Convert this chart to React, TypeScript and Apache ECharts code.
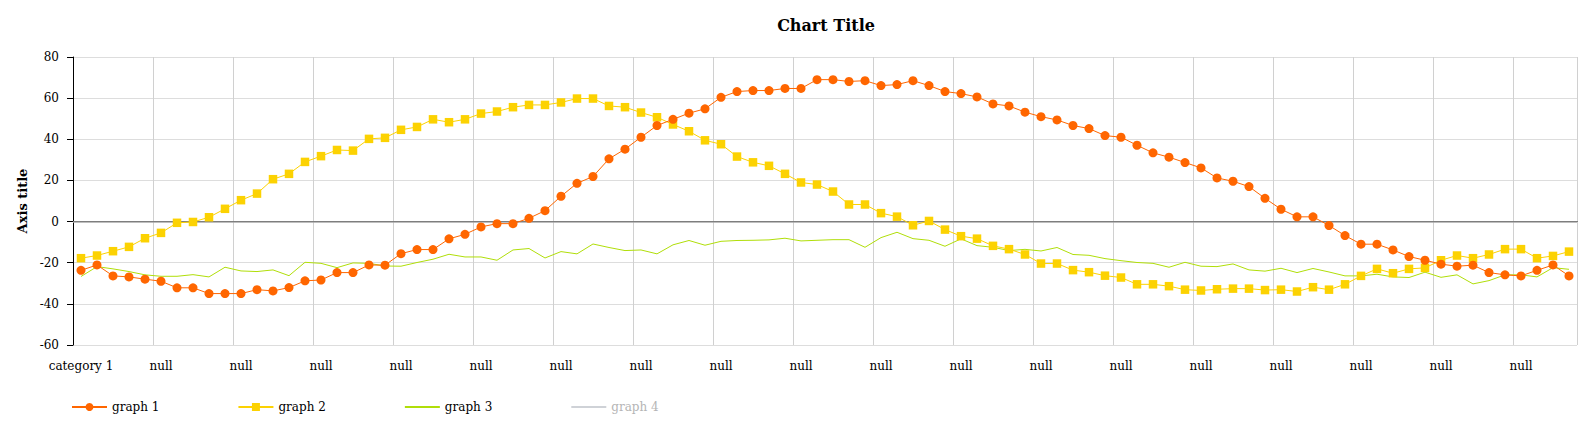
import React, { useEffect, useRef } from "react";
import * as echarts from "echarts";

const categories: string[] = [
  "category 1", "null", "null", "null", "null", "null", "null", "null", "null", "null",
  "null", "null", "null", "null", "null", "null", "null", "null", "null", "null",
  "null", "null", "null", "null", "null", "null", "null", "null", "null", "null",
  "null", "null", "null", "null", "null", "null", "null", "null", "null", "null",
  "null", "null", "null", "null", "null", "null", "null", "null", "null", "null",
  "null", "null", "null", "null", "null", "null", "null", "null", "null", "null",
  "null", "null", "null", "null", "null", "null", "null", "null", "null", "null",
  "null", "null", "null", "null", "null", "null", "null", "null", "null", "null",
  "null", "null", "null", "null", "null", "null", "null", "null", "null", "null",
  "null", "null", "null", "null",
];

const graph1: number[] = [
  -23.7, -21.1, -26.4, -26.9, -28.0, -29.0, -32.2, -32.2, -35.0, -35.0,
  -35.0, -33.1, -33.7, -32.1, -28.8, -28.4, -24.8, -24.8, -21.1, -21.2,
  -15.6, -13.6, -13.6, -8.4, -6.2, -2.6, -1.0, -1.0, 1.6, 5.3,
  12.3, 18.6, 21.9, 30.5, 35.2, 41.0, 46.7, 49.7, 52.7, 54.8,
  60.4, 63.2, 63.7, 63.7, 64.7, 64.7, 69.0, 69.0, 68.1, 68.5,
  66.1, 66.6, 68.5, 66.1, 63.2, 62.2, 60.6, 57.2, 56.2, 53.2,
  51.0, 49.4, 46.7, 45.2, 41.8, 41.0, 37.1, 33.4, 31.3, 28.7,
  26.1, 21.2, 19.6, 17.0, 11.3, 6.0, 2.3, 2.3, -1.9, -6.8,
  -11.0, -11.0, -13.8, -17.0, -18.8, -20.7, -21.7, -21.2, -24.8, -25.9,
  -26.4, -23.7, -21.1, -26.4,
];

const graph2: number[] = [
  -17.8, -16.5, -14.4, -12.3, -8.1, -5.5, -0.6, -0.2, 2.1, 6.2,
  10.4, 13.6, 20.6, 23.2, 29.0, 31.8, 34.8, 34.5, 40.2, 40.7,
  44.6, 46.0, 49.7, 48.3, 49.7, 52.5, 53.5, 55.6, 56.7, 56.7,
  57.9, 59.8, 59.8, 56.2, 55.6, 53.0, 50.7, 47.2, 43.9, 39.5,
  37.6, 31.6, 28.8, 27.1, 23.2, 19.0, 18.0, 14.6, 8.3, 8.3,
  4.1, 2.4, -1.8, 0.3, -3.9, -7.1, -8.3, -11.8, -13.4, -16.0,
  -20.4, -20.4, -23.6, -24.6, -26.3, -27.2, -30.5, -30.5, -31.4, -33.1,
  -33.5, -32.9, -32.6, -32.6, -33.3, -33.1, -34.0, -31.9, -33.1, -30.5,
  -26.4, -23.0, -25.1, -23.0, -22.5, -18.8, -16.5, -17.8, -16.0, -13.4,
  -13.4, -17.8, -16.7, -14.6,
];

const graph3: number[] = [
  -26.7, -21.9, -23.0, -24.3, -25.9, -26.6, -26.6, -25.8, -26.9, -22.2,
  -24.0, -24.3, -23.5, -26.3, -19.8, -20.3, -22.4, -20.1, -20.3, -21.6,
  -21.7, -19.9, -18.3, -15.9, -17.2, -17.2, -18.8, -13.8, -13.1, -17.7,
  -14.6, -15.7, -10.9, -12.6, -14.1, -13.8, -15.7, -11.3, -9.2, -11.5,
  -9.6, -9.2, -9.1, -8.9, -8.1, -9.4, -9.1, -8.8, -8.8, -12.5,
  -7.8, -5.2, -8.3, -9.1, -12.0, -8.4, -11.7, -12.5, -14.1, -13.5,
  -14.3, -12.6, -16.0, -16.4, -18.0, -19.0, -19.9, -20.3, -22.2, -19.8,
  -21.7, -21.9, -20.6, -23.5, -24.1, -22.7, -24.8, -22.8, -24.5, -26.4,
  -26.4, -25.6, -26.9, -27.2, -24.6, -27.1, -25.9, -30.3, -28.7, -25.9,
  -25.9, -26.9, -22.4, -23.2,
];

const graph4: number[] = [];

const seriesNames = ["graph 1", "graph 2", "graph 3", "graph 4"];
const zeroLine = 0;

const FONT = "DejaVu Serif";

export default function App() {
  const ref = useRef<HTMLDivElement>(null);
  useEffect(() => {
    if (!ref.current) return;
    const chart = echarts.init(ref.current, undefined, { renderer: "svg" });
    chart.setOption({
      animation: false,
      textStyle: { fontFamily: FONT },
      title: {
        text: "Chart Title",
        left: 821,
        textAlign: "center",
        top: 12,
        textStyle: { fontFamily: FONT, fontSize: 16, fontWeight: "bold", color: "#000" },
      },
      legend: {
        left: 66,
        top: 396,
        itemGap: 78,
        itemWidth: 35,
        itemHeight: 10,
        inactiveColor: "#b5b5b5",
        selected: { "graph 4": false },
        textStyle: { fontFamily: FONT, fontSize: 12, color: "#000" },
        data: [
          { name: seriesNames[0] },
          { name: seriesNames[1] },
          { name: seriesNames[2], itemStyle: { opacity: 0 } },
          { name: seriesNames[3], itemStyle: { opacity: 0 } },
        ],
      },
      grid: { left: 73, right: 17, top: 57, bottom: 85 },
      xAxis: {
        type: "category",
        data: categories,
        boundaryGap: true,
        axisLine: { lineStyle: { color: "#000", width: 1 } },
        axisTick: { interval: 4, alignWithLabel: true, length: 6, lineStyle: { color: "#000" } },
        axisLabel: { interval: 4, margin: 15, color: "#000", fontFamily: FONT, fontSize: 12 },
        splitLine: { show: true, interval: 4, lineStyle: { color: "#d0d0d0", width: 1 } },
      },
      yAxis: {
        type: "value",
        min: -60,
        max: 80,
        interval: 20,
        name: "Axis title",
        nameLocation: "middle",
        nameRotate: 90,
        nameGap: 42,
        nameTextStyle: { fontFamily: FONT, fontSize: 13, fontWeight: "bold", color: "#000" },
        axisLine: { show: true, lineStyle: { color: "#000", width: 1 } },
        axisTick: { show: true, length: 6, lineStyle: { color: "#000" } },
        axisLabel: { margin: 14, color: "#000", fontFamily: FONT, fontSize: 12 },
        splitLine: { show: true, lineStyle: { color: "#dddddd", width: 1 } },
      },
      series: [
        {
          name: "graph 1",
          type: "line",
          data: graph1,
          symbol: "circle",
          symbolSize: 9,
          showAllSymbol: true,
          itemStyle: { color: "#FF6600" },
          lineStyle: { color: "#FF6600", width: 1 },
          markLine: {
            silent: true,
            symbol: "none",
            label: { show: false },
            lineStyle: { color: "#a8a8a8", width: 1.5, type: "solid" },
            data: [{ yAxis: zeroLine }],
            z: 1,
          },
          z: 4,
        },
        {
          name: "graph 2",
          type: "line",
          data: graph2,
          symbol: "rect",
          symbolSize: 8.5,
          showAllSymbol: true,
          itemStyle: { color: "#FCD202" },
          lineStyle: { color: "#FCD202", width: 1 },
          z: 3,
        },
        {
          name: "graph 3",
          type: "line",
          data: graph3,
          symbol: "none",
          itemStyle: { color: "#B0DE09" },
          lineStyle: { color: "#B0DE09", width: 1 },
          z: 2,
        },
        {
          name: "graph 4",
          type: "line",
          data: graph4,
          symbol: "none",
          itemStyle: { color: "#b0b0b0" },
          lineStyle: { color: "#b0b0b0", width: 1 },
        },
      ],
    });
    return () => chart.dispose();
  }, []);
  return (
    <div
      ref={ref}
      style={{ position: "fixed", left: 0, top: 0, width: 1594, height: 430, background: "#fff" }}
    />
  );
}
